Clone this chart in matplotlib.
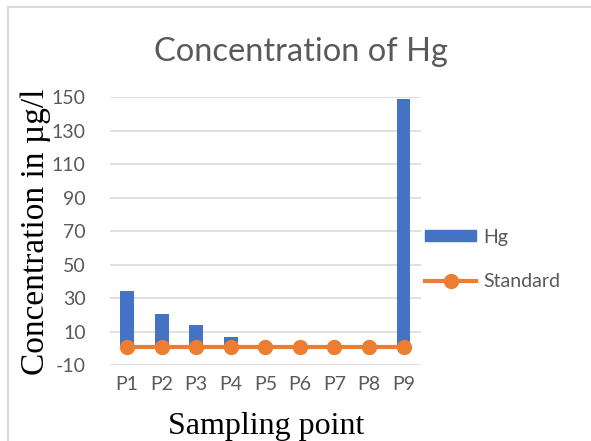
import matplotlib.pyplot as plt
from matplotlib.lines import Line2D
from matplotlib.patches import Patch

# data
points = ['P1', 'P2', 'P3', 'P4', 'P5', 'P6', 'P7', 'P8', 'P9']
hg = [34.5, 20.3, 13.8, 6.6, 0, 0, 0, 0, 149]
standard = [1, 1, 1, 1, 1, 1, 1, 1, 1]
yticks = [-10, 10, 30, 50, 70, 90, 110, 130, 150]

blue = '#4472C4'
orange = '#ED7D31'
gray = '#595959'
sans = ['Lato', 'DejaVu Sans']
serif = ['Liberation Serif', 'DejaVu Serif']
plt.rcParams['axes.unicode_minus'] = False

fig = plt.figure(figsize=(5.91, 4.41), dpi=100)
ax = fig.add_axes([0.186, 0.172, 0.526, 0.608])

x = range(len(points))
ax.bar(x, hg, width=0.4, color=blue, zorder=2)
ax.plot(x, standard, color=orange, lw=3, marker='o', ms=10, zorder=3)

ax.set_xlim(-0.5, len(points) - 0.5)
ax.set_ylim(-10, 150)
ax.set_yticks(yticks)
ax.set_xticks(list(x))
ax.set_xticklabels(points)
ax.yaxis.grid(True, color='#D9D9D9', lw=1.2, zorder=0)
for s in ax.spines.values():
    s.set_visible(False)
ax.tick_params(length=0, labelsize=14, labelcolor=gray)
ax.tick_params(axis='y', pad=17.5)
ax.tick_params(axis='x', pad=8)
for lab in ax.get_xticklabels() + ax.get_yticklabels():
    lab.set_family(sans)

fig.text(0.51, 0.882, 'Concentration of Hg', ha='center', va='center',
         fontsize=23.5, color=gray, family=sans)
fig.text(0.45, 0.033, 'Sampling point', ha='center', va='center',
         fontsize=23, family=serif)
fig.text(0.06, 0.474, 'Concentration in µg/l', ha='center', va='center',
         fontsize=24, family=serif, rotation=90)

handles = [Patch(color=blue),
           Line2D([], [], color=orange, lw=3, marker='o', ms=10)]
leg = fig.legend(handles, ['Hg', 'Standard'], loc='center left',
                 bbox_to_anchor=(0.69, 0.412), frameon=False,
                 handlelength=2.6, handleheight=0.5, labelspacing=1.4,
                 handletextpad=0.4, prop={'family': sans, 'size': 14})
for t in leg.get_texts():
    t.set_color(gray)

# outer chart frame (only top and left edges visible in the crop)
fig.add_artist(Line2D([0.0135, 0.0135], [0, 0.983], color='#D9D9D9', lw=1.5))
fig.add_artist(Line2D([0.0135, 1], [0.983, 0.983], color='#D9D9D9', lw=1.5))

fig.savefig('out.png', dpi=100)
